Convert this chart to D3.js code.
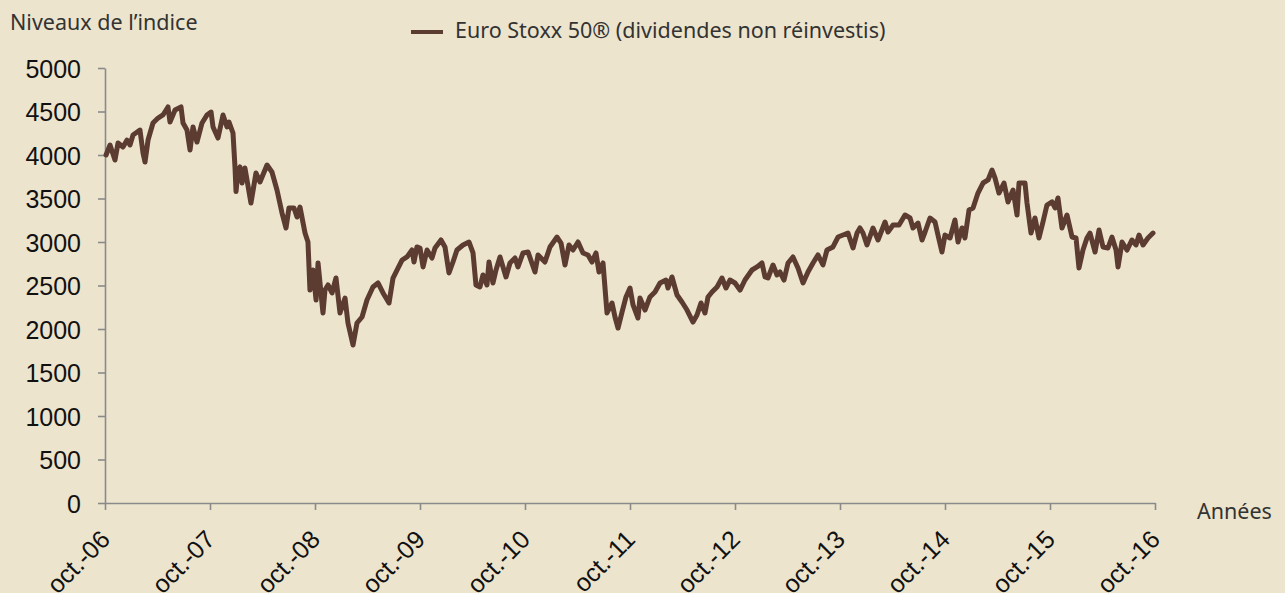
<!DOCTYPE html>
<html>
<head>
<meta charset="utf-8">
<script src="https://cdn.jsdelivr.net/npm/d3@7"></script>
<style>
body { margin: 0; background: #ece4cd; }
svg { display: block; }
</style>
</head>
<body>
<div id="index_graph"></div>
<script>
// Dates en années décimales (oct.-06 = 2006.75) et niveaux de l'indice
var years = [
    2006.760, 2006.798, 2006.845, 2006.874, 2006.921, 2006.960, 2006.988, 2007.017, 2007.083, 2007.112,
    2007.131, 2007.160, 2007.207, 2007.255, 2007.302, 2007.350, 2007.369, 2007.417, 2007.474, 2007.493,
    2007.531, 2007.560, 2007.588, 2007.626, 2007.674, 2007.721, 2007.760, 2007.779, 2007.826, 2007.874,
    2007.912, 2007.931, 2007.969, 2007.988, 2007.998, 2008.017, 2008.036, 2008.055, 2008.083, 2008.140,
    2008.188, 2008.226, 2008.293, 2008.340, 2008.388, 2008.436, 2008.474, 2008.502, 2008.550, 2008.579,
    2008.607, 2008.655, 2008.683, 2008.702, 2008.731, 2008.760, 2008.779, 2008.826, 2008.845, 2008.874,
    2008.912, 2008.950, 2008.988, 2009.036, 2009.064, 2009.112, 2009.150, 2009.198, 2009.245, 2009.302,
    2009.350, 2009.398, 2009.455, 2009.493, 2009.531, 2009.579, 2009.626, 2009.674, 2009.693, 2009.721,
    2009.750, 2009.779, 2009.817, 2009.864, 2009.893, 2009.950, 2009.988, 2010.026, 2010.064, 2010.102,
    2010.160, 2010.217, 2010.255, 2010.283, 2010.321, 2010.350, 2010.388, 2010.407, 2010.445, 2010.474,
    2010.512, 2010.569, 2010.607, 2010.655, 2010.683, 2010.731, 2010.779, 2010.845, 2010.874, 2010.940,
    2010.988, 2011.055, 2011.093, 2011.131, 2011.169, 2011.207, 2011.255, 2011.302, 2011.350, 2011.388,
    2011.426, 2011.455, 2011.493, 2011.531, 2011.579, 2011.607, 2011.636, 2011.674, 2011.712, 2011.750,
    2011.779, 2011.826, 2011.845, 2011.893, 2011.940, 2011.988, 2012.036, 2012.093, 2012.112, 2012.150,
    2012.198, 2012.245, 2012.293, 2012.350, 2012.388, 2012.426, 2012.464, 2012.493, 2012.531, 2012.579,
    2012.626, 2012.664, 2012.702, 2012.750, 2012.798, 2012.845, 2012.912, 2012.960, 2013.007, 2013.036,
    2013.064, 2013.112, 2013.150, 2013.179, 2013.217, 2013.255, 2013.302, 2013.350, 2013.398, 2013.445,
    2013.493, 2013.540, 2013.588, 2013.626, 2013.683, 2013.731, 2013.779, 2013.826, 2013.874, 2013.912,
    2013.940, 2013.969, 2014.007, 2014.064, 2014.112, 2014.179, 2014.207, 2014.255, 2014.312, 2014.369,
    2014.417, 2014.445, 2014.493, 2014.531, 2014.560, 2014.607, 2014.655, 2014.683, 2014.721, 2014.750,
    2014.798, 2014.845, 2014.874, 2014.912, 2014.940, 2014.979, 2015.017, 2015.064, 2015.112, 2015.160,
    2015.198, 2015.226, 2015.264, 2015.312, 2015.350, 2015.398, 2015.436, 2015.455, 2015.512, 2015.531,
    2015.569, 2015.607, 2015.645, 2015.683, 2015.721, 2015.769, 2015.798, 2015.826, 2015.864, 2015.912,
    2015.960, 2015.998, 2016.026, 2016.064, 2016.102, 2016.131, 2016.179, 2016.217, 2016.255, 2016.302,
    2016.340, 2016.379, 2016.398, 2016.436, 2016.483, 2016.531, 2016.569, 2016.598, 2016.636, 2016.683,
    2016.731
]
var values = [
    4000, 4115, 3942, 4138, 4092, 4172, 4115, 4230, 4287, 4023,
    3919, 4172, 4368, 4425, 4460, 4552, 4379, 4517, 4552, 4368,
    4287, 4057, 4322, 4149, 4368, 4460, 4494, 4322, 4195, 4460,
    4322, 4379, 4253, 3862, 3580, 3827, 3862, 3678, 3850, 3448,
    3793, 3690, 3885, 3805, 3598, 3333, 3161, 3391, 3391, 3287,
    3402, 3103, 3000, 2448, 2678, 2333, 2759, 2184, 2448, 2506,
    2414, 2586, 2184, 2356, 2069, 1816, 2069, 2138, 2333, 2483,
    2529, 2414, 2299, 2586, 2678, 2793, 2828, 2908, 2770, 2943,
    2931, 2713, 2908, 2816, 2931, 3023, 2943, 2644, 2770, 2908,
    2966, 3000, 2874, 2506, 2483, 2621, 2506, 2770, 2529, 2678,
    2828, 2598, 2759, 2816, 2713, 2874, 2885, 2655, 2851, 2770,
    2943, 3057, 2988, 2736, 2966, 2908, 3000, 2874, 2851, 2770,
    2874, 2655, 2759, 2184, 2299, 2138, 2011, 2195, 2368, 2471,
    2276, 2126, 2356, 2218, 2368, 2425, 2529, 2563, 2471, 2598,
    2391, 2310, 2218, 2080, 2161, 2299, 2184, 2368, 2425, 2483,
    2586, 2471, 2563, 2529, 2448, 2563, 2678, 2713, 2759, 2598,
    2586, 2736, 2621, 2655, 2563, 2759, 2828, 2701, 2529, 2655,
    2759, 2851, 2736, 2908, 2943, 3057, 3080, 3103, 2931, 3103,
    3161, 3103, 2966, 3161, 3023, 3230, 3115, 3195, 3195, 3310,
    3276, 3161, 3218, 3023, 3115, 3276, 3230, 3080, 2885, 3080,
    3046, 3253, 3000, 3161, 3046, 3368, 3391, 3563, 3678, 3713,
    3827, 3736, 3563, 3678, 3460, 3598, 3310, 3678, 3678, 3448,
    3103, 3276, 3046, 3230, 3425, 3460, 3391, 3506, 3161, 3310,
    3057, 3046, 2701, 2908, 3046, 3103, 2885, 3138, 2943, 2931,
    3057, 2908, 2713, 3000, 2908, 3023, 2966, 3080, 2966, 3046,
    3103
]
var tickYears = [2006.75, 2007.75, 2008.75, 2009.75, 2010.75, 2011.75, 2012.75, 2013.75, 2014.75, 2015.75, 2016.75]
var tickLabels = ["oct.-06", "oct.-07", "oct.-08", "oct.-09", "oct.-10", "oct.-11", "oct.-12", "oct.-13", "oct.-14", "oct.-15", "oct.-16"]
var levelTicks = [0, 500, 1000, 1500, 2000, 2500, 3000, 3500, 4000, 4500, 5000]
var seriesName = "Euro Stoxx 50® (dividendes non réinvestis)"

var margin = {top: 68, right: 130, bottom: 90, left: 105}
var width = 1285 - margin.left - margin.right
var height = 593 - margin.top - margin.bottom
var lineColor = "#5c3b31"
var axisColor = "#8a8a8a"
var labelFont = "'Liberation Sans', Arial, sans-serif"
var textFont = "'Noto Sans', 'Open Sans', sans-serif"

var svg = d3.select("#index_graph")
    .append("svg")
    .attr("width", 1285)
    .attr("height", 593)
    .style("background", "#ece4cd")

var container = svg.append("g")
    .attr("transform", "translate(" + margin.left + "," + margin.top + ")")

var xScale = d3.scaleLinear()
    .domain([tickYears[0], tickYears[tickYears.length - 1]])
    .range([0, width])

var yScale = d3.scaleLinear()
    .domain([0, 5000])
    .range([height, 0])

/**
 * Style an axis group: grey lines, black labels
 * @param axisGroup the group returned by the axis call
 */
function styleAxis(axisGroup) {
    axisGroup.select(".domain").attr("stroke", axisColor).attr("stroke-width", 1.6)
    axisGroup.selectAll(".tick line").attr("stroke", axisColor).attr("stroke-width", 1.6)
    axisGroup.selectAll(".tick text")
        .attr("fill", "#111")
        .style("font-family", labelFont)
        .style("font-size", "25px")
}

var yAxis = container.append("g")
    .call(d3.axisLeft(yScale)
        .tickValues(levelTicks)
        .tickSize(7)
        .tickSizeOuter(0)
        .tickPadding(17)
        .tickFormat(d3.format("d")))
styleAxis(yAxis)
yAxis.selectAll(".tick text").attr("dy", "0.36em")

var xAxis = container.append("g")
    .attr("transform", "translate(0," + height + ")")
    .call(d3.axisBottom(xScale)
        .tickValues(tickYears)
        .tickSize(7)
        .tickSizeOuter(0)
        .tickFormat(function(d, i) { return tickLabels[i] }))
styleAxis(xAxis)
xAxis.selectAll(".tick text")
    .attr("x", 0)
    .attr("y", 0)
    .attr("dy", null)
    .attr("text-anchor", "end")
    .attr("transform", "translate(6,38) rotate(-45)")

// Série de l'indice
var points = years.map(function(y, i) { return {year: y, level: values[i]} })
container.append("path")
    .datum(points)
    .attr("fill", "none")
    .attr("stroke", lineColor)
    .attr("stroke-width", 5)
    .attr("stroke-linejoin", "round")
    .attr("stroke-linecap", "round")
    .attr("d", d3.line()
        .x(function(d) { return xScale(d.year) })
        .y(function(d) { return yScale(d.level) }))

// Titres et légende
svg.append("text")
    .attr("x", 10)
    .attr("y", 30)
    .attr("fill", "#333")
    .style("font-family", textFont)
    .style("font-size", "21.5px")
    .text("Niveaux de l\u2019indice")

svg.append("text")
    .attr("x", 1197)
    .attr("y", 519)
    .attr("fill", "#333")
    .style("font-family", textFont)
    .style("font-size", "21.5px")
    .text("Années")

var legend = svg.append("g").attr("transform", "translate(411,32)")
legend.append("line")
    .attr("x1", 0)
    .attr("x2", 32)
    .attr("stroke", lineColor)
    .attr("stroke-width", 4)
legend.append("text")
    .attr("x", 44)
    .attr("y", 6)
    .attr("fill", "#333")
    .style("font-family", textFont)
    .style("font-size", "21.5px")
    .text(seriesName)
</script>
</body>
</html>
